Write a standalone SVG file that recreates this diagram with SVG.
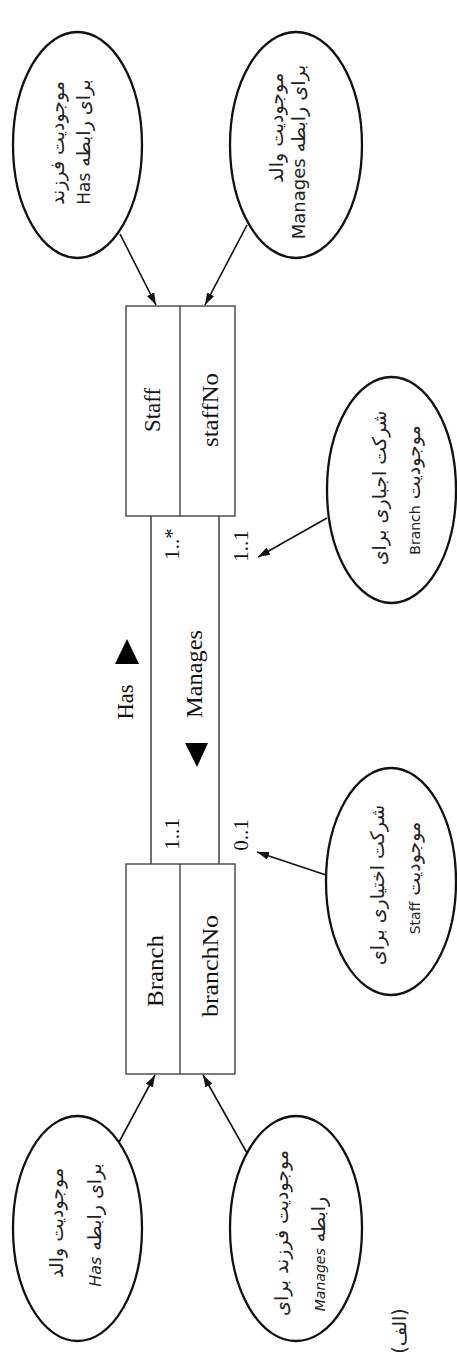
<svg xmlns="http://www.w3.org/2000/svg" width="457" height="1358" viewBox="0 0 457 1358">
<defs>
<marker id="arrow" viewBox="0 0 12 8" refX="12" refY="4" markerWidth="12" markerHeight="8" markerUnits="userSpaceOnUse" orient="auto"><path d="M0,0 L12,4 L0,8 z" fill="#111"/></marker>
</defs>
<style>
.box{fill:#fff;stroke:#444;stroke-width:1.4}
.ell{fill:#fff;stroke:#111;stroke-width:2.3}
.lbl{font-family:"Liberation Serif","DejaVu Serif",serif;font-size:23px;fill:#111;text-anchor:middle}
.mult{font-family:"Liberation Serif","DejaVu Serif",serif;font-size:21px;fill:#111;text-anchor:middle}
.fa{font-family:"DejaVu Sans","Noto Sans",sans-serif;font-size:19px;fill:#222;text-anchor:middle;direction:rtl}
.it{font-style:italic}
.assoc{stroke:#333;stroke-width:1.4;fill:none}
.arr{stroke:#111;stroke-width:1.6;fill:none;marker-end:url(#arrow)}
.tri{fill:#000}
</style>
<rect width="457" height="1358" fill="#fff"/>
<g transform="translate(0,1358) rotate(-90)">
  <g id="connectors">
    <line class="assoc" x1="494" y1="151" x2="842" y2="151"/>
    <line class="assoc" x1="494" y1="219" x2="842" y2="219"/>
    <line class="arr" x1="1124" y1="120" x2="1053" y2="156"/>
    <line class="arr" x1="1133" y1="247" x2="1053" y2="205"/>
    <line class="arr" x1="840" y1="327" x2="801" y2="258"/>
    <line class="arr" x1="483" y1="326" x2="506" y2="257"/>
    <line class="arr" x1="214" y1="118" x2="283" y2="155"/>
    <line class="arr" x1="205" y1="247" x2="283" y2="203"/>
    <polygon class="tri" points="694,115 694,139 719,127"/>
    <polygon class="tri" points="615,185 615,208 591,197"/>
    <text class="lbl" x="656" y="133" textLength="35" lengthAdjust="spacingAndGlyphs">Has</text>
    <text class="lbl" x="684" y="202" textLength="88" lengthAdjust="spacingAndGlyphs">Manages</text>
    <text class="mult" x="814" y="179">1..*</text>
    <text class="mult" x="812" y="248">1..1</text>
    <text class="mult" x="524" y="179">1..1</text>
    <text class="mult" x="523" y="248">0..1</text>
  </g>
  <g id="staff">
    <rect class="box" x="842" y="126" width="210" height="109"/>
    <line class="box" x1="842" y1="180" x2="1052" y2="180"/>
    <text class="lbl" x="948" y="160" textLength="44" lengthAdjust="spacingAndGlyphs">Staff</text>
    <text class="lbl" x="948" y="218" textLength="74" lengthAdjust="spacingAndGlyphs">staffNo</text>
  </g>
  <g id="branch">
    <rect class="box" x="284" y="126" width="210" height="109"/>
    <line class="box" x1="284" y1="180" x2="494" y2="180"/>
    <text class="lbl" x="387" y="163" textLength="72" lengthAdjust="spacingAndGlyphs">Branch</text>
    <text class="lbl" x="392" y="218" textLength="102" lengthAdjust="spacingAndGlyphs">branchNo</text>
  </g>
  <g id="note-staff-child-has">
    <ellipse class="ell" cx="1213" cy="77.5" rx="113" ry="64.5"/>
    <text class="fa" direction="rtl" x="1215" y="64">موجودیت فرزند</text>
    <text class="fa" direction="rtl" x="1216" y="90">برای رابطه <tspan font-size="17">Has</tspan></text>
  </g>
  <g id="note-staff-parent-manages">
    <ellipse class="ell" cx="1213" cy="296" rx="113" ry="66"/>
    <text class="fa" direction="rtl" x="1230" y="283">موجودیت والد</text>
    <text class="fa" direction="rtl" x="1206" y="305">برای رابطه <tspan font-size="18">Manages</tspan></text>
  </g>
  <g id="note-branch-mandatory">
    <ellipse class="ell" cx="868" cy="391.5" rx="113" ry="64.5"/>
    <text class="fa" direction="rtl" x="870" y="386">شرکت اجباری برای</text>
    <text class="fa" direction="rtl" x="868" y="420">موجودیت <tspan font-size="14">Branch</tspan></text>
  </g>
  <g id="note-staff-optional">
    <ellipse class="ell" cx="476.5" cy="391" rx="113.5" ry="65"/>
    <text class="fa" direction="rtl" x="473" y="384">شرکت اختیاری برای</text>
    <text class="fa" direction="rtl" x="480" y="420">موجودیت <tspan font-size="14">Staff</tspan></text>
  </g>
  <g id="note-branch-parent-has">
    <ellipse class="ell" cx="129.5" cy="77.5" rx="112.5" ry="64.5"/>
    <text class="fa" direction="rtl" x="135" y="63">موجودیت والد</text>
    <text class="fa" direction="rtl" x="133" y="101">برای رابطه <tspan class="it" font-size="16">Has</tspan></text>
  </g>
  <g id="note-branch-child-manages">
    <ellipse class="ell" cx="129.5" cy="296" rx="112.5" ry="66"/>
    <text class="fa" direction="rtl" x="125" y="288">موجودیت فرزند برای</text>
    <text class="fa" direction="rtl" x="104" y="325">رابطه <tspan class="it" font-size="14">Manages</tspan></text>
  </g>
  <text class="fa" direction="rtl" x="27" y="406" font-size="18">(الف)</text>
</g>
</svg>
